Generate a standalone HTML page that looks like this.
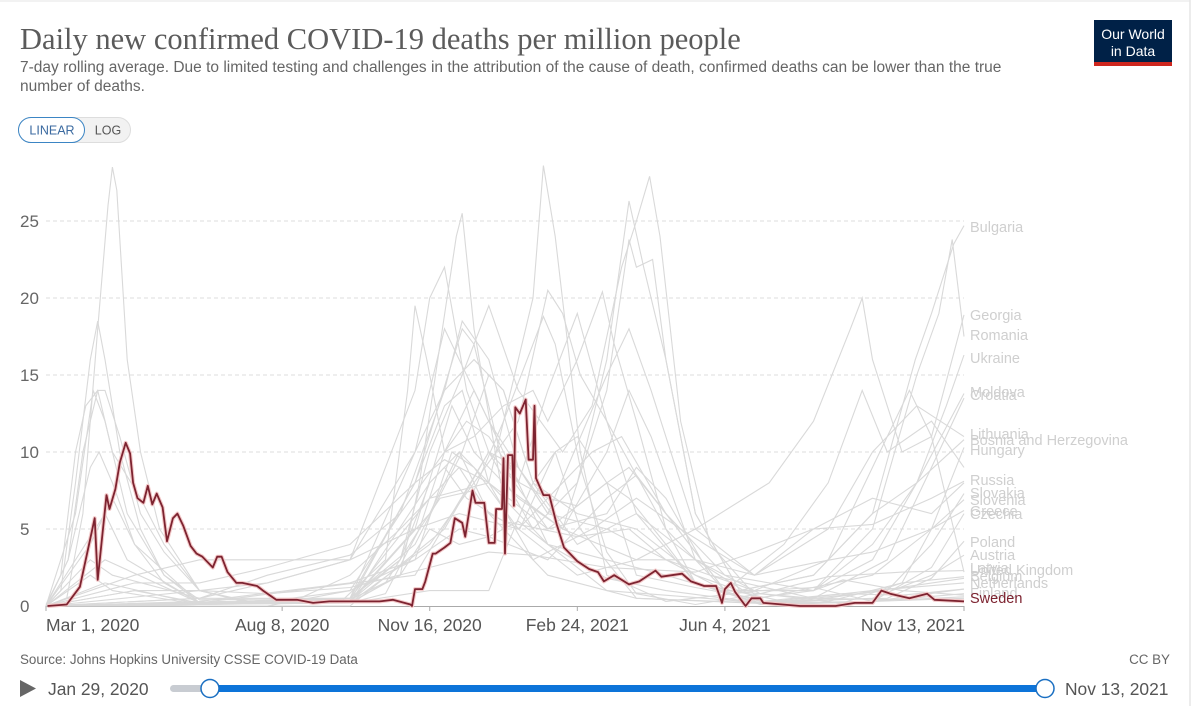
<!DOCTYPE html>
<html><head><meta charset="utf-8"><style>
body{margin:0;background:#fff;font-family:"Liberation Sans",sans-serif;}
#wrap{position:relative;width:1195px;height:706px;overflow:hidden;}
svg text{font-family:"Liberation Sans",sans-serif;}
</style></head><body>
<div id="wrap">
<svg id="svg" width="1195" height="706" viewBox="0 0 1195 706">
  <line x1="1190" y1="0" x2="1190" y2="706" stroke="#d9d9d9"/>
  <line x1="0" y1="1" x2="1190" y2="1" stroke="#e6e6e6"/>
  <text x="20" y="49" font-size="30.5" fill="#5b5b5b" style="font-family:'Liberation Serif',serif">Daily new confirmed COVID-19 deaths per million people</text>
  <text x="20" y="72" font-size="15.5" fill="#666">7-day rolling average. Due to limited testing and challenges in the attribution of the cause of death, confirmed deaths can be lower than the true</text>
  <text x="20" y="91" font-size="15.5" fill="#666">number of deaths.</text>
  <g>
    <rect x="1094" y="20" width="78" height="46" fill="#002147"/>
    <rect x="1094" y="62" width="78" height="4" fill="#ce261e"/>
    <text x="1133" y="39" font-size="14" fill="#fff" text-anchor="middle">Our World</text>
    <text x="1133" y="56" font-size="14" fill="#fff" text-anchor="middle">in Data</text>
  </g>
  <g>
    <rect x="18.5" y="117.5" width="112" height="25" rx="12.5" fill="#f2f2f2" stroke="#ddd"/>
    <rect x="18.5" y="117.5" width="66" height="25" rx="12.5" fill="#fff" stroke="#3b85c4"/>
    <text x="52" y="134.5" font-size="12.5" fill="#3b6aa0" text-anchor="middle">LINEAR</text>
    <text x="108" y="134.5" font-size="12.5" fill="#555" text-anchor="middle">LOG</text>
  </g>
  <g id="grid"></g>
  <g id="gray"></g>
  <g id="hi"></g>
  <g id="labels"></g>
  <text x="20" y="664" font-size="13.4" fill="#666">Source: Johns Hopkins University CSSE COVID-19 Data</text>
  <text x="1170" y="664" font-size="13.4" fill="#666" text-anchor="end">CC BY</text>
  <polygon points="20,680 36,688.5 20,697" fill="#666"/>
  <text x="48" y="695" font-size="17.4" fill="#555">Jan 29, 2020</text>
  <rect x="170" y="685" width="875" height="7" rx="3.5" fill="#c8ccd2"/>
  <rect x="210" y="685" width="835" height="7" fill="#0d74d9"/>
  <circle cx="210" cy="688.5" r="9" fill="#fff" stroke="#1a6fc2" stroke-width="1.5"/>
  <circle cx="1045" cy="688.5" r="9" fill="#fff" stroke="#1a6fc2" stroke-width="1.5"/>
  <text x="1065" y="695" font-size="17.4" fill="#555">Nov 13, 2021</text>
</svg>
</div>
<script>
// days since Mar 1, 2020
const yTicks=[0,5,10,15,20,25];
const xTickDays=[0,160,260,360,460,622];
const xTickLabels=["Mar 1, 2020","Aug 8, 2020","Nov 16, 2020","Feb 24, 2021","Jun 4, 2021","Nov 13, 2021"];
const countries=["Belgium","Spain","Italy","United Kingdom","France","Netherlands","Czechia","Hungary","Bosnia and Herzegovina","Bulgaria","Romania","Georgia","Ukraine","Moldova","Croatia","Lithuania","Slovenia","Slovakia","Poland","Greece","Russia","Austria","Latvia","Portugal","North Macedonia","Montenegro","Ireland","Finland","Denmark"];
const belgium=[[0,0],[14,0.5],[25,6],[35,18],[42,26],[45,28.5],[48,27],[55,16],[64,10],[77,5],[104,1],[138,0.3],[206,0.4],[240,2],[253,8],[267,17],[278,24],[282,25.5],[290,18],[308,8],[350,5],[400,3],[440,3],[484,0.8],[530,0.3],[580,1.5],[622,1.9]];
const spain=[[0,0],[10,1],[20,8],[30,16],[35,18.5],[40,16],[50,10],[64,5],[80,2],[104,0.2],[150,0.2],[172,0.5],[206,2],[240,5],[260,7],[280,9],[300,6],[321,5],[345,10],[360,11],[380,8],[400,2],[440,1.2],[480,0.5],[520,1],[540,1.7],[580,1],[622,0.7]];
const italy=[[0,0.1],[10,2],[20,10],[27,13],[35,14],[45,10],[64,7],[80,4],[104,1],[140,0.2],[206,0.2],[230,0.8],[253,5],[270,10],[285,12],[300,11],[321,8],[340,7],[360,6.5],[380,8],[395,7],[420,4],[440,1.5],[484,0.3],[540,0.8],[580,0.7],[622,1.1]];
const uk=[[0,0],[15,3],[25,10],[35,14],[40,14],[50,11],[64,6],[80,3.5],[104,1],[138,0.2],[206,0.2],[230,1.5],[253,5],[267,7],[290,7.5],[310,12],[330,17],[337,18.8],[345,17],[362,9],[380,3.5],[400,0.8],[440,0.1],[484,0.8],[530,1.9],[580,2.2],[622,2.3]];
const france=[[0,0],[20,6],[32,14],[40,12],[55,6],[80,2],[104,0.4],[206,0.5],[240,3],[260,8],[270,9],[285,7],[310,5.5],[360,4.5],[395,5],[420,3],[460,1],[520,0.5],[580,0.4],[622,0.6]];
const netherlands=[[0,0],[15,3],[30,9],[36,10],[45,8],[60,4],[80,1.5],[104,0.2],[206,0.2],[240,2],[260,5],[280,4],[300,4.5],[320,5.5],[340,4],[380,1.8],[420,1],[484,0.2],[560,0.3],[622,1.1]];
const czechia=[[0,0],[104,0.1],[200,0.3],[230,3],[245,14],[250,19.5],[258,16],[270,10],[290,11],[310,13],[330,14],[340,12],[360,16],[377,20.4],[385,17],[400,12],[420,5],[440,1.5],[484,0.1],[560,0.3],[600,2.5],[622,6.0]];
const hungary=[[0,0],[60,1],[104,0.2],[206,0.3],[240,3],[260,10],[282,15],[300,19.5],[320,14],[350,10],[370,13],[390,22],[400,25],[409,27.9],[416,24],[430,12],[450,4],[484,0.3],[540,0.2],[580,1.5],[600,5],[622,10.3]];
const bosnia=[[0,0],[104,0.5],[150,1.5],[206,3],[250,14],[260,20],[270,22],[285,14],[300,10],[330,5],[360,8],[380,16],[395,26.3],[405,22],[420,16],[440,6],[470,1],[520,2],[560,6],[590,8],[622,10.8]];
const bulgaria=[[0,0],[150,0.3],[206,1],[240,6],[270,14],[282,18.5],[300,16],[320,9],[350,5],[380,14],[395,23.8],[400,22],[411,22.5],[420,16],[440,6],[470,1],[520,2],[560,6],[589,16],[600,19],[610,22],[615,23.5],[622,24.7]];
const romania=[[0,0],[60,1.5],[104,1.5],[150,2.5],[206,4],[250,8],[270,9.5],[300,8],[340,5],[380,8],[395,9],[420,6],[460,1],[520,1],[560,5],[590,15],[605,19],[614,23.8],[622,17.5]];
const georgia=[[0,0],[150,0],[206,1],[250,3],[275,10],[290,9],[320,5],[360,2],[400,3],[440,5],[490,8],[520,12],[545,18],[553,20],[560,16],[580,10],[600,11],[622,18.9]];
const ukraine=[[0,0],[104,0.3],[206,1.5],[250,3],[280,5],[300,4.5],[340,3],[380,7],[400,8.5],[420,6],[460,2],[520,1],[560,3],[590,8],[610,13],[622,16.3]];
const moldova=[[0,0],[104,1],[150,1.5],[206,3],[250,5],[280,6],[320,5],[370,10],[390,11],[420,6],[460,1],[520,1],[560,4],[590,8],[622,13.8]];
const croatia=[[0,0],[104,0.1],[206,0.5],[250,8],[282,18],[290,17],[310,9],[340,5],[380,6],[400,9],[420,7],[450,2],[520,0.5],[570,3],[600,9],[622,13.5]];
const lithuania=[[0,0],[206,0.5],[250,4],[282,10],[300,15],[310,14],[330,8],[360,4],[400,6],[440,3],[480,2],[530,5],[560,10],[590,13],[622,11]];
const slovenia=[[0,0],[40,1.5],[104,0.1],[206,0.5],[250,10],[270,14],[290,16],[310,14],[330,8],[360,6],[400,5],[440,2],[484,0.5],[560,2],[600,5],[622,6.9]];
const slovakia=[[0,0],[206,0.2],[260,4],[290,8],[320,12],[340,20.5],[350,19],[362,15],[380,12],[400,6],[440,1.5],[500,0.3],[570,1],[600,4],[622,7.3]];
const poland=[[0,0],[206,0.3],[250,5],[275,13],[290,10],[320,7],[350,5],[380,10],[395,14],[410,11],[440,3],[484,0.3],[570,0.5],[600,1.8],[622,4.2]];
const greece=[[0,0],[206,0.2],[260,6],[280,10],[300,8],[330,3],[370,5],[400,7],[430,5],[480,2],[520,2.8],[560,3.5],[600,5],[622,6.2]];
const russia=[[0,0],[60,1],[104,1],[150,0.8],[206,1.2],[260,2.5],[300,3.5],[330,3.3],[380,2.5],[440,2.2],[480,3.5],[520,5],[560,5.3],[600,7],[622,8.1]];
const austria=[[0,0],[30,2],[45,1],[104,0.1],[206,0.3],[250,8],[270,13],[282,14],[300,8],[340,4],[380,3],[420,2],[484,0.2],[560,0.5],[600,2],[622,3.3]];
const latvia=[[0,0],[206,0],[270,5],[300,10],[320,9],[340,6],[380,5],[420,3],[480,1],[530,3],[560,9],[585,14],[600,11],[622,2.2]];
const portugal=[[0,0],[30,3],[45,2],[104,0.5],[206,0.5],[260,7],[300,8],[330,20],[337,28.6],[345,24],[362,10],[380,2],[420,0.3],[484,1],[520,1.2],[560,0.3],[622,0.8]];
const macedonia=[[0,0],[60,2],[104,3],[150,3],[206,3],[250,10],[270,18],[280,16],[300,12],[340,6],[380,15],[395,18],[410,14],[440,5],[480,2],[520,5],[560,7],[600,6],[622,8]];
const montenegro=[[0,0],[104,0.5],[150,2],[206,3.3],[240,6],[270,10],[290,14],[320,8],[340,14],[360,19],[380,12],[420,5],[460,1],[500,4],[530,8],[553,14],[570,10],[600,12],[622,9]];
const ireland=[[0,0],[30,4],[45,7],[60,4],[104,0.2],[206,0.2],[260,1],[300,1],[330,8],[345,10],[362,5],[400,0.5],[484,0.2],[560,1],[622,1.5]];
const finland=[[0,0],[40,6],[55,3],[104,0.2],[206,0.2],[260,8],[280,10],[300,6],[340,2],[400,0.5],[500,0.1],[622,0.5]];
const denmark=[[0,0],[40,3],[104,0.2],[250,2],[300,10],[320,8],[340,4],[380,1],[500,0.1],[622,1.8]];
const graySeries=[belgium,spain,italy,uk,france,netherlands,czechia,hungary,bosnia,bulgaria,romania,georgia,ukraine,moldova,croatia,lithuania,slovenia,slovakia,poland,greece,russia,austria,latvia,portugal,macedonia,montenegro,ireland,finland,denmark];
const swedenDays=[1,14,23,33,35,41,43,47,50,54,57,59,62,66,69,72,75,79,82,86,89,93,98,102,106,113,116,119,123,129,133,143,147,156,170,181,192,204,226,235,247,248,250,255,257,262,264,270,274,277,282,284,289,291,297,300,304,305,309,310,311,313,316,317,318,321,325,327,330,331,332,337,341,346,351,360,368,374,378,385,395,402,413,417,431,437,446,454,458,460,464,467,474,478,484,486,511,535,548,560,566,572,585,597,602,622];
const swedenVals=[0,0.1,1.25,5.7,1.7,7.2,6.3,7.6,9.3,10.6,9.9,8,7,6.7,7.8,6.6,7.3,6.4,4.2,5.7,6,5.2,3.9,3.4,3.2,2.5,3.2,3.2,2.2,1.5,1.5,1.3,1.0,0.4,0.4,0.2,0.3,0.3,0.3,0.4,0.1,0,1.1,1.1,1.6,3.4,3.4,3.8,4.1,5.7,5.4,4.5,7.5,6.7,6.7,4.1,4.1,6.3,6.3,9.6,3.4,9.8,9.8,6.5,12.9,12.5,13.4,9.5,9.5,13,8.3,7.2,7.2,5.3,3.8,2.9,2.4,2.2,1.6,2.0,1.4,1.6,2.3,1.9,2.1,1.6,1.3,1.3,0.2,1.1,1.5,0.9,0,0.5,0.5,0.2,0,0,0.2,0.2,1.0,0.8,0.5,0.8,0.4,0.3];
const endLabels=["Bulgaria","Georgia","Romania","Ukraine","Moldova","Croatia","Lithuania","Bosnia and Herzegovina","Hungary","Russia","Slovakia","Slovenia","Greece","Czechia","Poland","Austria","Latvia","United Kingdom","Belgium","Netherlands","Finland"];
const endLabelY=[227,315,335,358,392,395,434,440,450,480,493,500,511,514,542,555,568,570,576,583,593];

const NS="http://www.w3.org/2000/svg";
const X0=46,X1=964,Y0=606,PXU=15.4,DMAX=622;
const xs=d=>X0+d*(X1-X0)/DMAX;
const ys=v=>Y0-v*PXU;
function mk(tag,attrs,parent){const e=document.createElementNS(NS,tag);for(const k in attrs)e.setAttribute(k,attrs[k]);parent.appendChild(e);return e;}
const grid=document.getElementById('grid');
yTicks.forEach(t=>{
  if(t>0){const l=mk('line',{x1:X0,x2:X1,y1:ys(t),y2:ys(t),stroke:'#dcdcdc','stroke-dasharray':'4,3'},grid);
  
  }
  const tx=mk('text',{x:20,y:ys(t)+6,'font-size':17,fill:'#666'},grid);tx.textContent=t;
  
  
});
const ax=mk('line',{x1:X0,x2:X1,y1:Y0+0.5,y2:Y0+0.5,stroke:'#aaa'},grid);


xTickDays.forEach((d,i)=>{
  const tk=mk('line',{x1:xs(d),x2:xs(d),y1:Y0,y2:Y0+5,stroke:'#aaa'},grid);
  
  
  let anchor='middle',x=xs(d);
  if(i===0){anchor='start';x=X0;}
  if(i===xTickDays.length-1){anchor='end';x=X1+1;}
  const tx=mk('text',{x:x,y:Y0+25,'font-size':17.5,fill:'#555','text-anchor':anchor},grid);tx.textContent=xTickLabels[i];
  
  
});
const gray=document.getElementById('gray');
graySeries.forEach((s,i)=>{
  const p=mk('polyline',{points:s.map(q=>xs(q[0]).toFixed(1)+','+ys(q[1]).toFixed(1)).join(' '),fill:'none',stroke:'#d9d9d9','stroke-width':1.1},gray);
  
  
});
const hi=document.getElementById('hi');
const spts=swedenDays.map((d,i)=>xs(d).toFixed(1)+','+ys(swedenVals[i]).toFixed(1)).join(' ');
const halo=mk('polyline',{points:spts,fill:'none',stroke:'#f3c9c9','stroke-width':4,'stroke-linejoin':'round'},hi);


const sw=mk('polyline',{points:spts,fill:'none',stroke:'#7d2330','stroke-width':1.8,'stroke-linejoin':'round'},hi);


const lab=document.getElementById('labels');
endLabels.forEach((n,i)=>{
  const t=mk('text',{x:970,y:endLabelY[i]+5,'font-size':14.5,fill:'#cfcfcf'},lab);t.textContent=n;
  
  
});
const st=mk('text',{x:970,y:603,'font-size':14.5,fill:'#7d2330'},lab);st.textContent="Sweden";


</script>
</body></html>
